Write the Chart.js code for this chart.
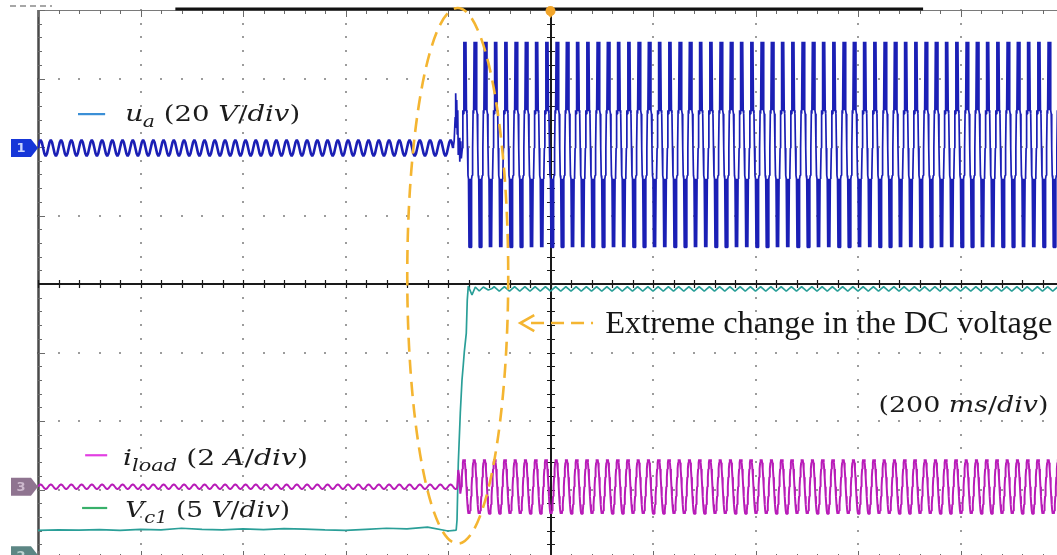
<!DOCTYPE html>
<html>
<head>
<meta charset="utf-8">
<title>DC voltage step – scope capture</title>
<style>
  html, body { margin: 0; padding: 0; background: #fff; overflow: hidden; width: 1057px; height: 555px; }
  canvas { display: block; }
</style>
<script src="https://cdn.jsdelivr.net/npm/chart.js@4.4.1/dist/chart.umd.min.js"></script>
</head>
<body>
<canvas id="scope" width="1066" height="560"></canvas>
<script>
// ---- timebase and graticule ----
const MS_PER_DIV = 200;          // 200 ms/div
const X_DIVS = 10;
const Y_DIVS = 8;

// ---- channel settings (units per division, ground marker in div from screen centre) ----
const CH_UA    = { perDiv: 20, ground: 1.985 };   // u_a, 20 V/div
const CH_ILOAD = { perDiv: 2,  ground: -2.96 };   // i_load, 2 A/div
const CH_VC1   = { perDiv: 5,  ground: -3.93 };   // V_c1, 5 V/div

// ---- u_a (V) ----
// one 20 ms cycle before the step, 2.5 ms samples
const uaPreCycle = [0, 1.65, 2.35, 1.65, 0, -1.65, -2.35, -1.65];
const uaPreEnd = 810;
// around the step: [ms, V]
const uaStep = [[810, 0], [812, 2], [814, 9], [815, 16], [816, 6], [817, 14], [818, 4], [819, 11],
                [820, -2], [822, 3], [823, -4], [825, 2], [826, -3]];
// one 20 ms cycle after the step, 1 ms samples
const uaPostCycle = [0, 11, 10, 31, 11, 31, 11, 31, 11, 10, 0, -8, -9, -29, -9, -29, -9, -29, -9, -8];
const uaPostStart = 828;

// ---- i_load (A) ----
const iPreCycle = [0, 0.05, 0.07, 0.05, 0, -0.05, -0.07, -0.05];
const iPreEnd = 818;
const iStep = [[818, 0], [820, 0.49], [822, 0.3], [824, -0.2]];
const iPostCycle = [0, 0.28, 0.52, 0.7, 0.8, 0.72, 0.8, 0.7, 0.52, 0.28,
                    0, -0.28, -0.52, -0.7, -0.79, -0.7, -0.79, -0.7, -0.52, -0.28];
const iPostStart = 826;

// ---- V_c1 (V) ----
// before the step, one reading every 40 ms from 0 ms
const vcPre = [1.66, 1.70, 1.68, 1.72, 1.66, 1.74, 1.70, 1.82, 1.74, 1.70, 1.78,
               1.72, 1.80, 1.76, 1.70, 1.66, 1.74, 1.82, 1.78, 1.90, 1.62];
// rising edge and settling: [ms, V]
const vcRise = [[812, 1.66], [816, 1.69], [817.6, 2.42], [820.1, 6.58], [824, 10.23], [827.3, 12.64],
                [829.8, 13.74], [831.8, 14.69], [835.7, 16.07], [837.6, 18.48], [839.6, 19.5],
                [846.8, 18.85], [853.3, 19.43], [861, 19.14], [868.9, 19.43], [878.6, 19.21]];
// ripple after settling, 5 ms samples
const vcPostCycle = [19.3, 19.45, 19.3, 19.12];
const vcPostStart = 885;

// ---- helpers that assemble the traces from the readings above ----
function repeatCycle(cycle, start, end, step) {
  const out = [];
  for (let i = 0; start + i * step < end; i++) out.push({ x: start + i * step, y: cycle[i % cycle.length] });
  return out;
}
const asPoints = list => list.map(([x, y]) => ({ x, y }));
const tEnd = X_DIVS * MS_PER_DIV + 1;

const uaData = [
  ...repeatCycle(uaPreCycle, 0, uaPreEnd, 2.5),
  ...asPoints(uaStep),
  ...repeatCycle(uaPostCycle, uaPostStart, tEnd, 1)
];
const iData = [
  ...repeatCycle(iPreCycle, 0, iPreEnd, 2.5),
  ...asPoints(iStep),
  ...repeatCycle(iPostCycle, iPostStart, tEnd, 1)
];
const vcData = [
  ...vcPre.map((v, k) => ({ x: k * 40, y: v })),
  ...asPoints(vcRise),
  ...repeatCycle(vcPostCycle, vcPostStart, tEnd, 5)
];

const chScale = ch => ({
  type: 'linear', display: false,
  min: (-Y_DIVS / 2 - ch.ground) * ch.perDiv,
  max: (Y_DIVS / 2 - ch.ground) * ch.perDiv
});

// ---- oscilloscope graticule ----
const graticule = {
  id: 'graticule',
  beforeDatasetsDraw(chart) {
    const { ctx, chartArea: a, scales } = chart;
    const x = scales.x, y = scales.y;
    ctx.save();
    // dotted division lines
    ctx.fillStyle = '#9c9c9c';
    for (let i = 1; i < X_DIVS; i++) {
      if (i === X_DIVS / 2) continue;
      const px = Math.round(x.getPixelForValue(i * MS_PER_DIV));
      for (let k = -Y_DIVS / 2 * 5; k <= Y_DIVS / 2 * 5; k++) {
        ctx.fillRect(px - 1, Math.round(y.getPixelForValue(k / 5)) - 1, 2, 2);
      }
    }
    for (let j = -Y_DIVS / 2 + 1; j < Y_DIVS / 2; j++) {
      if (j === 0) continue;
      const py = Math.round(y.getPixelForValue(j));
      for (let k = 0; k <= X_DIVS * 5; k++) {
        ctx.fillRect(Math.round(x.getPixelForValue(k * MS_PER_DIV / 5)) - 1, py - 1, 2, 2);
      }
    }
    // outer frame
    ctx.strokeStyle = '#7a7a7a';
    ctx.lineWidth = 1.2;
    ctx.beginPath();
    ctx.moveTo(a.left, a.top + 0.5); ctx.lineTo(a.right, a.top + 0.5);
    ctx.moveTo(a.left, a.bottom - 0.5); ctx.lineTo(a.right, a.bottom - 0.5);
    ctx.stroke();
    ctx.strokeStyle = '#4a4a4a';
    ctx.lineWidth = 2.5;
    ctx.beginPath();
    ctx.moveTo(a.left + 0.5, a.top); ctx.lineTo(a.left + 0.5, a.bottom);
    ctx.stroke();
    // minor ticks on frame
    ctx.strokeStyle = '#6a6a6a';
    ctx.lineWidth = 1;
    ctx.beginPath();
    for (let k = 0; k <= X_DIVS * 5; k++) {
      const px = Math.round(x.getPixelForValue(k * MS_PER_DIV / 5)) + 0.5;
      const len = k % 5 === 0 ? 7 : 4;
      ctx.moveTo(px, a.top); ctx.lineTo(px, a.top + len);
      ctx.moveTo(px, a.bottom); ctx.lineTo(px, a.bottom - len);
    }
    for (let k = -Y_DIVS / 2 * 5; k <= Y_DIVS / 2 * 5; k++) {
      const py = Math.round(y.getPixelForValue(k / 5)) + 0.5;
      ctx.moveTo(a.left, py); ctx.lineTo(a.left + (k % 5 === 0 ? 7 : 4), py);
    }
    ctx.stroke();
    // centre cross with ticks
    const cx = Math.round(x.getPixelForValue(X_DIVS / 2 * MS_PER_DIV));
    const cy = Math.round(y.getPixelForValue(0));
    ctx.strokeStyle = '#1a1a1a';
    ctx.lineWidth = 2;
    ctx.beginPath();
    ctx.moveTo(a.left, cy); ctx.lineTo(a.right, cy);
    ctx.moveTo(cx, a.top); ctx.lineTo(cx, a.bottom);
    ctx.stroke();
    ctx.lineWidth = 1.2;
    ctx.beginPath();
    for (let k = 0; k <= X_DIVS * 5; k++) {
      const px = Math.round(x.getPixelForValue(k * MS_PER_DIV / 5)) + 0.5;
      ctx.moveTo(px, cy - 4); ctx.lineTo(px, cy + 4);
    }
    for (let k = -Y_DIVS / 2 * 5; k <= Y_DIVS / 2 * 5; k++) {
      const py = Math.round(y.getPixelForValue(k / 5)) + 0.5;
      ctx.moveTo(cx - 4, py); ctx.lineTo(cx + 4, py);
    }
    ctx.stroke();
    ctx.restore();
  }
};

// ---- record bar, trigger mark, channel tags, labels and the highlighted step ----
const RECORD_BAR = [268, 1727];     // ms
const TRIGGER_AT = 1000;            // ms
const STEP_RING = { t: 819, d: 0.12, rt: 98.5, rd: 3.91 };
const ARROW = { tip: 941, from: 962, to: 1083, d: -0.57 };

function drawMath(ctx, runs, x0, base, size, targetW, family) {
  const fontFor = r => `${r[1] ? 'italic ' : ''}${r[2] ? Math.round(size * 0.72) : size}px ${family}`;
  let w = 0;
  for (const r of runs) { ctx.font = fontFor(r); w += ctx.measureText(r[0]).width; }
  ctx.save();
  ctx.translate(x0, base);
  ctx.scale(targetW / w, 1);
  let cx = 0;
  for (const r of runs) {
    ctx.font = fontFor(r);
    ctx.fillText(r[0], cx, r[2] ? size * 0.28 : 0);
    cx += ctx.measureText(r[0]).width;
  }
  ctx.restore();
}

function tag(ctx, left, cy, fill, textColor, label) {
  ctx.save();
  ctx.fillStyle = fill;
  ctx.beginPath();
  ctx.moveTo(left - 27, cy - 9);
  ctx.lineTo(left - 7, cy - 9);
  ctx.lineTo(left, cy);
  ctx.lineTo(left - 7, cy + 9);
  ctx.lineTo(left - 27, cy + 9);
  ctx.closePath();
  ctx.fill();
  ctx.fillStyle = textColor;
  ctx.font = 'bold 13px "DejaVu Sans"';
  ctx.textAlign = 'center';
  ctx.textBaseline = 'middle';
  ctx.fillText(label, left - 17, cy + 1);
  ctx.restore();
}

const overlay = {
  id: 'overlay',
  afterDraw(chart) {
    const { ctx, chartArea: a, scales } = chart;
    const x = scales.x, y = scales.y;
    const X = v => x.getPixelForValue(v), Y = v => y.getPixelForValue(v);
    ctx.save();

    // header remnants above the frame
    ctx.strokeStyle = '#8a8a8a';
    ctx.lineWidth = 1.5;
    ctx.setLineDash([6, 4]);
    ctx.beginPath(); ctx.moveTo(10, 6); ctx.lineTo(52, 6); ctx.stroke();
    ctx.setLineDash([]);
    ctx.strokeStyle = '#111';
    ctx.lineWidth = 3;
    ctx.beginPath(); ctx.moveTo(X(RECORD_BAR[0]), a.top - 1); ctx.lineTo(X(RECORD_BAR[1]), a.top - 1); ctx.stroke();

    // trigger position
    const tx = X(TRIGGER_AT);
    ctx.fillStyle = '#f2a52a';
    ctx.beginPath(); ctx.arc(tx, a.top + 1, 5, 0, Math.PI * 2); ctx.fill();
    ctx.beginPath(); ctx.moveTo(tx - 4.5, a.top + 2); ctx.lineTo(tx + 4.5, a.top + 2); ctx.lineTo(tx, a.top + 8); ctx.closePath(); ctx.fill();

    // channel ground tags
    tag(ctx, a.left, Y(CH_UA.ground), '#1636d8', '#c9d4ff', '1');
    tag(ctx, a.left, Y(CH_ILOAD.ground), '#8f7490', '#cdb9cd', '3');
    tag(ctx, a.left, Y(CH_VC1.ground) + 2, '#5c8684', '#bcd4d2', '2');

    // legend entries
    ctx.lineWidth = 2.2;
    const keys = [
      { c: '#3b8fd6', t0: 78, t1: 131, d: 2.48 },
      { c: '#e23fe2', t0: 92, t1: 135, d: -2.50 },
      { c: '#38b06a', t0: 86, t1: 135, d: -3.27 }
    ];
    for (const k of keys) {
      ctx.strokeStyle = k.c;
      ctx.beginPath(); ctx.moveTo(X(k.t0), Y(k.d)); ctx.lineTo(X(k.t1), Y(k.d)); ctx.stroke();
    }
    ctx.fillStyle = '#1c1c1c';
    const serif = '"DejaVu Serif"';
    drawMath(ctx, [['u', 1, 0], ['a', 1, 1], [' (20 ', 0, 0], ['V', 1, 0], ['/', 0, 0], ['div', 1, 0], [')', 0, 0]],
             X(170), Y(2.38), 23, 175, serif);
    drawMath(ctx, [['i', 1, 0], ['load', 1, 1], [' (2 ', 0, 0], ['A', 1, 0], ['/', 0, 0], ['div', 1, 0], [')', 0, 0]],
             X(166), Y(-2.64), 23, 185, serif);
    drawMath(ctx, [['V', 1, 0], ['c1', 1, 1], [' (5 ', 0, 0], ['V', 1, 0], ['/', 0, 0], ['div', 1, 0], [')', 0, 0]],
             X(170), Y(-3.40), 23, 165, serif);
    drawMath(ctx, [['(200 ', 0, 0], ['ms', 1, 0], ['/', 0, 0], ['div', 1, 0], [')', 0, 0]],
             X(1640), Y(-1.87), 23, 170, serif);

    // highlighted step
    ctx.strokeStyle = '#f4b531';
    ctx.lineWidth = 2.6;
    ctx.setLineDash([14, 8]);
    ctx.beginPath();
    ctx.ellipse(X(STEP_RING.t), Y(STEP_RING.d),
                X(STEP_RING.t + STEP_RING.rt) - X(STEP_RING.t),
                Y(STEP_RING.d) - Y(STEP_RING.d + STEP_RING.rd), 0, 0, Math.PI * 2);
    ctx.stroke();
    ctx.setLineDash([13, 7]);
    ctx.beginPath(); ctx.moveTo(X(ARROW.from), Y(ARROW.d)); ctx.lineTo(X(ARROW.to), Y(ARROW.d)); ctx.stroke();
    ctx.setLineDash([]);
    ctx.beginPath();
    ctx.moveTo(X(ARROW.tip) + 14, Y(ARROW.d) - 8);
    ctx.lineTo(X(ARROW.tip), Y(ARROW.d));
    ctx.lineTo(X(ARROW.tip) + 14, Y(ARROW.d) + 8);
    ctx.stroke();

    ctx.fillStyle = '#161616';
    ctx.font = '32px "Liberation Serif"';
    const msg = 'Extreme change in the DC voltage';
    const w = ctx.measureText(msg).width;
    ctx.save();
    ctx.translate(X(1107), Y(-0.72));
    ctx.scale(447 / w, 1);
    ctx.fillText(msg, 0, 0);
    ctx.restore();

    ctx.restore();
  }
};

new Chart(document.getElementById('scope'), {
  type: 'line',
  data: {
    datasets: [
      {
        label: 'u_a', data: uaData, yAxisID: 'yUa',
        borderColor: '#1b1fb5', borderWidth: 1.7,
        segment: { borderWidth: c => (c.p0.parsed.x < uaPreEnd ? 2.6 : 1.7) }
      },
      { label: 'i_load', data: iData, yAxisID: 'yIload', borderColor: '#b81cb8', borderWidth: 2 },
      { label: 'V_c1', data: vcData, yAxisID: 'yVc1', borderColor: '#2a9f98', borderWidth: 1.7 }
    ]
  },
  options: {
    responsive: false,
    devicePixelRatio: 1,
    animation: false,
    parsing: false,
    normalized: true,
    layout: { padding: { left: 38, top: 10, right: 3, bottom: 2 } },
    elements: {
      point: { radius: 0 },
      line: { tension: 0, borderJoinStyle: 'bevel', fill: false }
    },
    plugins: { legend: { display: false }, tooltip: { enabled: false } },
    scales: {
      x: { type: 'linear', display: false, min: 0, max: X_DIVS * MS_PER_DIV },
      y: { type: 'linear', display: false, min: -Y_DIVS / 2, max: Y_DIVS / 2 },
      yUa: chScale(CH_UA),
      yIload: chScale(CH_ILOAD),
      yVc1: chScale(CH_VC1)
    }
  },
  plugins: [graticule, overlay]
});
</script>
</body>
</html>
